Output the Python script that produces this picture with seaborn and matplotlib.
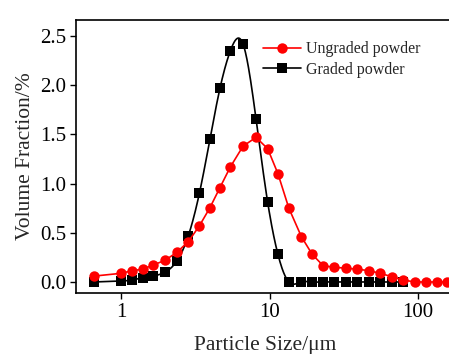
import numpy as np
import pandas as pd
import matplotlib
matplotlib.use("Agg")
import matplotlib.pyplot as plt
from matplotlib.lines import Line2D
import seaborn as sns

# Dados (tamanho de partícula em um, fração volumétrica em %)
tamanho = [0.66, 1.0, 1.19, 1.40, 1.63, 1.98, 2.37, 2.84, 3.37, 3.97, 4.64,
           5.45, 6.63, 8.11, 9.72, 11.4, 13.5, 16.4, 19.4, 23.0, 27.3, 32.6,
           39.0, 46.8, 55.7, 66.5, 79.6, 95.4, 113, 134, 156]
nao_classificado = [0.06, 0.088, 0.115, 0.13, 0.17, 0.22, 0.30, 0.41, 0.57,
                    0.755, 0.96, 1.17, 1.38, 1.47, 1.355, 1.10, 0.75, 0.46,
                    0.28, 0.165, 0.15, 0.14, 0.13, 0.115, 0.088, 0.054, 0.02,
                    0.0, 0.0, 0.0, 0.0]
classificado = [0.0, 0.01, 0.02, 0.044, 0.06, 0.10, 0.21, 0.47, 0.90, 1.45,
                1.97, 2.35, 2.42, 1.66, 0.81, 0.28, 0.0, 0.0, 0.0, 0.0, 0.0,
                0.0, 0.0, 0.0, 0.0, 0.0, 0.0]
rotulos = ["Ungraded powder", "Graded powder"]


def spline_natural(x, y, n=600):
    # spline cúbica natural (só para desenhar a linha suave)
    x = np.asarray(x, float)
    y = np.asarray(y, float)
    k = len(x)
    h = np.diff(x)
    A = np.zeros((k, k))
    b = np.zeros(k)
    A[0, 0] = A[-1, -1] = 1
    for i in range(1, k - 1):
        A[i, i - 1] = h[i - 1]
        A[i, i] = 2 * (h[i - 1] + h[i])
        A[i, i + 1] = h[i]
        b[i] = 6 * ((y[i + 1] - y[i]) / h[i] - (y[i] - y[i - 1]) / h[i - 1])
    M = np.linalg.solve(A, b)
    xs = np.linspace(x[0], x[-1], n)
    idx = np.clip(np.searchsorted(x, xs) - 1, 0, k - 2)
    x0, x1 = x[idx], x[idx + 1]
    hh = x1 - x0
    ys = (M[idx] * (x1 - xs) ** 3 / (6 * hh) + M[idx + 1] * (xs - x0) ** 3 / (6 * hh)
          + (y[idx] / hh - M[idx] * hh / 6) * (x1 - xs)
          + (y[idx + 1] / hh - M[idx + 1] * hh / 6) * (xs - x0))
    return xs, ys


sns.set_style("ticks")
plt.rcParams["font.family"] = ["Liberation Serif", "DejaVu Serif"]
plt.rcParams["mathtext.fontset"] = "stix"

fig = plt.figure(figsize=(4.49, 3.54), dpi=100)
ax = fig.add_axes([76 / 449, 61 / 354, (455 - 76) / 449, (293 - 20) / 354])

df_red = pd.DataFrame({"x": tamanho, "y": nao_classificado})
df_blk = pd.DataFrame({"x": tamanho[:len(classificado)], "y": classificado})

lx, ly = spline_natural(np.log10(df_blk["x"]), df_blk["y"])
df_curva = pd.DataFrame({"x": 10 ** lx, "y": ly})

sns.lineplot(data=df_curva, x="x", y="y", ax=ax, color="black", lw=1.2,
             estimator=None, sort=False, zorder=2)
sns.lineplot(data=df_blk, x="x", y="y", ax=ax, color="black", lw=0,
             marker="s", markersize=6.5, markeredgewidth=0,
             estimator=None, sort=False, zorder=3)
sns.lineplot(data=df_red, x="x", y="y", ax=ax, color="#ff0000", lw=1.2,
             marker="o", markersize=7.5, markeredgewidth=0,
             estimator=None, sort=False, zorder=4)

ax.set_xscale("log")
ax.set_xlim(10 ** -0.303, 10 ** 2.249)
ax.set_ylim(-0.112, 2.663)
ax.set_xticks([1, 10, 100])
ax.set_xticklabels(["1", "10", "100"])
ax.minorticks_off()
ax.set_yticks([0, 0.5, 1.0, 1.5, 2.0, 2.5])
ax.set_yticklabels(["0.0", "0.5", "1.0", "1.5", "2.0", "2.5"])
ax.tick_params(labelsize=15, direction="out", length=4, width=1, colors="black", pad=3)
for s in ax.spines.values():
    s.set_linewidth(1.2)
    s.set_color("black")

ax.set_xlabel("Particle Size/\u03bcm", fontsize=15.5, labelpad=10)
ax.set_ylabel("Volume Fraction/%", fontsize=15.5, labelpad=4)

handles = [
    Line2D([], [], color="#ff0000", lw=1.2, marker="o", markersize=7.5, markeredgewidth=0),
    Line2D([], [], color="black", lw=1.2, marker="s", markersize=6.5, markeredgewidth=0),
]
ax.legend(handles, rotulos, loc="upper left", bbox_to_anchor=(0.455, 0.975),
          frameon=False, fontsize=11.5, handlelength=2.4, handletextpad=0.3,
          labelspacing=0.3)

fig.savefig("out.png", dpi=100)
